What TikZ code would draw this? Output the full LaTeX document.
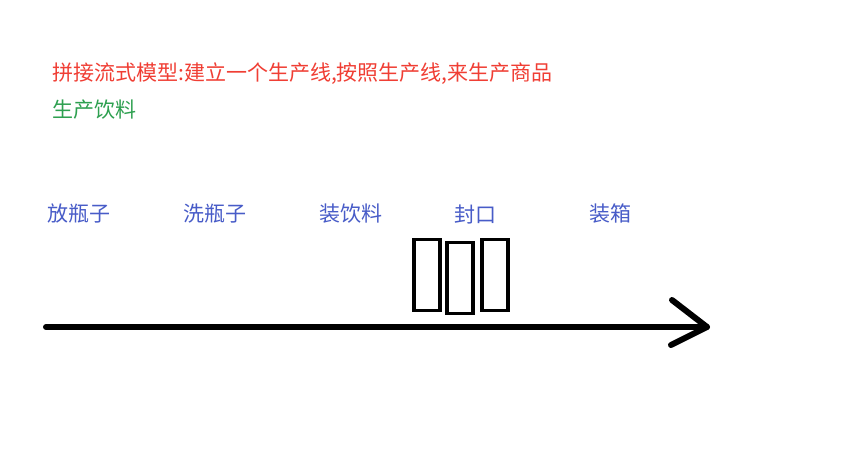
\documentclass[tikz,border=0pt]{standalone}
\usepackage{fontspec}
\setmainfont{Noto Sans CJK SC}
\definecolor{redtxt}{RGB}{240,62,52}
\definecolor{greentxt}{RGB}{46,160,80}
\definecolor{bluetxt}{RGB}{72,92,200}
\tikzset{
  lbl/.style={anchor=west,inner sep=0pt,font=\fontsize{21}{25}\selectfont},
  slot/.style={draw=black,line width=3.5pt,minimum width=26pt,minimum height=71pt,inner sep=0pt},
  belt/.style={line width=6pt,line cap=round,line join=round}
}
\begin{document}
\begin{tikzpicture}[x=1pt,y=-1pt]
\useasboundingbox[fill=white] (0,0) rectangle (862,472);
\node[lbl,text=redtxt] (title) at (52,74) {拼接流式模型:建立一个生产线,按照生产线,来生产商品};
\node[lbl,text=greentxt] (sub) at (52,110) {生产饮料};
\node[lbl,text=bluetxt] (s1) at (47,214) {放瓶子};
\node[lbl,text=bluetxt] (s2) at (183,214) {洗瓶子};
\node[lbl,text=bluetxt] (s3) at (319,214) {装饮料};
\node[lbl,text=bluetxt] (s4) at (454,214) {封口};
\node[lbl,text=bluetxt] (s5) at (589,214) {装箱};
\node[slot] (b1) at (427,275) {};
\node[slot] (b2) at (460,278) {};
\node[slot] (b3) at (495,275) {};
\coordinate (start) at (46,327);
\coordinate (tip) at (707,327);
\coordinate (up) at (672,300);
\coordinate (lo) at (671,345);
\draw[belt] (start) -- (tip);
\draw[belt] (up) -- (tip) -- (lo);
\end{tikzpicture}
\end{document}
